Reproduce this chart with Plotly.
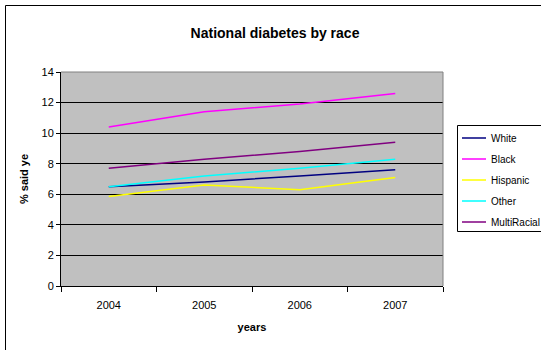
import plotly.graph_objects as go

# Survey years and share of respondents reporting diabetes (%)
years = ["2004", "2005", "2006", "2007"]
white = [6.5, 6.8, 7.2, 7.6]
black = [10.4, 11.4, 11.9, 12.6]
hispanic = [5.85, 6.6, 6.3, 7.1]
other = [6.5, 7.2, 7.7, 8.3]
multiracial = [7.7, 8.3, 8.8, 9.4]
y_ticks = [0, 2, 4, 6, 8, 10, 12, 14]

series = [
    ("White", white, "#000080"),
    ("Black", black, "#FF00FF"),
    ("Hispanic", hispanic, "#FFFF00"),
    ("Other", other, "#00FFFF"),
    ("MultiRacial", multiracial, "#800080"),
]

W, H = 541, 350
ml, mr, mt, mb = 61, 98, 72, 64
pw, ph = W - ml - mr, H - mt - mb

font = "Arial, Liberation Sans, sans-serif"


def fx(px):
    """Figure pixel x -> paper coordinate."""
    return (px - ml) / pw


def fy(py):
    """Figure pixel y -> paper coordinate."""
    return 1 - (py - mt) / ph


fig = go.Figure()
for name, vals, color in series:
    fig.add_trace(go.Scatter(x=years, y=vals, name=name, mode="lines",
                             line=dict(color=color, width=1.5), showlegend=False))

shapes = [
    # chart area border; only its top and left edges fall inside the figure
    dict(type="rect", xref="paper", yref="paper",
         x0=fx(5.5), x1=fx(W + 20), y0=fy(5.5), y1=fy(H + 20),
         line=dict(color="black", width=1), layer="below"),
    # gray frame along the top and right of the plot area
    dict(type="line", xref="paper", yref="paper", x0=0, x1=1, y0=1, y1=1,
         line=dict(color="#808080", width=1), layer="above"),
    dict(type="line", xref="paper", yref="paper", x0=1, x1=1, y0=0, y1=1,
         line=dict(color="#808080", width=1), layer="above"),
    # legend box
    dict(type="rect", xref="paper", yref="paper",
         x0=fx(457.5), x1=fx(W + 4), y0=fy(125.5), y1=fy(231.5),
         line=dict(color="black", width=1), fillcolor="white"),
]
annotations = []
for i, (name, vals, color) in enumerate(series):
    yy = 138 + i * 21
    shapes.append(dict(type="line", xref="paper", yref="paper",
                       x0=fx(462), x1=fx(486), y0=fy(yy), y1=fy(yy),
                       line=dict(color=color, width=1.5)))
    annotations.append(dict(text=name, xref="paper", yref="paper", x=fx(489), y=fy(yy),
                            xanchor="left", yanchor="middle", showarrow=False,
                            font=dict(size=10, family=font, color="black")))

fig.update_layout(
    width=W, height=H,
    margin=dict(l=ml, r=mr, t=mt, b=mb),
    paper_bgcolor="white",
    plot_bgcolor="#C0C0C0",
    font=dict(family=font, size=11, color="black"),
    title=dict(text="<b>National diabetes by race</b>", x=275 / W, xanchor="center",
               y=1 - 33 / H, yanchor="middle", font=dict(size=14, family=font)),
    showlegend=False,
    xaxis=dict(type="category", range=[-0.5, 3.5], tickson="boundaries", ticks="outside",
               ticklen=5, tickcolor="black", showline=True, linecolor="black", linewidth=1,
               showgrid=False, zeroline=False, tickfont=dict(size=11), ticklabelstandoff=9,
               title=dict(text="<b>years</b>", font=dict(size=11), standoff=13)),
    yaxis=dict(range=[0, 14], tickvals=y_ticks, ticks="outside",
               ticklen=4, tickcolor="black", showline=True, linecolor="black", linewidth=1,
               showgrid=True, gridcolor="black", gridwidth=1, zeroline=False,
               tickfont=dict(size=11),
               title=dict(text="<b>% said ye</b>", font=dict(size=11), standoff=10)),
    shapes=shapes,
    annotations=annotations,
)

fig.write_html("out.html", config={"displayModeBar": False})
